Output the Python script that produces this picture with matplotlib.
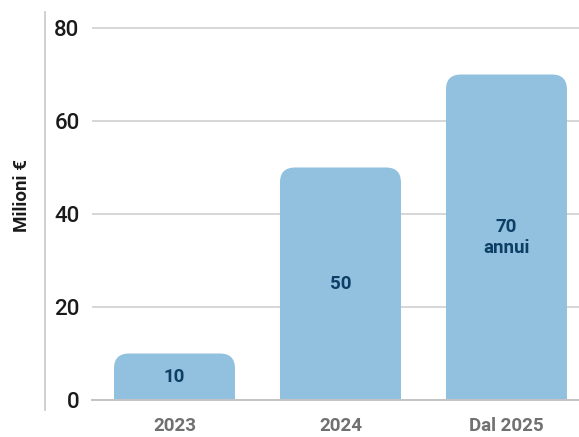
import matplotlib
matplotlib.use("Agg")
from matplotlib import pyplot as plt
from matplotlib.patches import FancyBboxPatch
from matplotlib.lines import Line2D

plt.rcParams['font.family'] = ['Roboto', 'DejaVu Sans']

categories = ['2023', '2024', 'Dal 2025']
values = [10, 50, 70]
bar_labels = ['10', '50', '70\nannui']
yticks = [0, 20, 40, 60, 80]

BARCOLOR = '#91c1de'
LABELCOLOR = '#0d3f66'
GRIDCOLOR = '#cfcfcf'

W, H = 579, 437
fig = plt.figure(figsize=(W / 100, H / 100), dpi=100)

# axes box in pixels: left 92, right 579, baseline at y=400, 80 at y=28
px_per_unit_y = (400 - 28) / 80
ytop = 82
top_px = 400 - ytop * px_per_unit_y
ax = fig.add_axes([92 / W, 1 - 400 / H, 1 - 92 / W, (400 - top_px) / H])

xmin, xmax = -0.497, 2.437
ax.set_xlim(xmin, xmax)
ax.set_ylim(0, ytop)
px_per_unit_x = (W - 92) / (xmax - xmin)

bar_width = 121 / px_per_unit_x
bars = ax.bar(range(len(values)), values, width=bar_width, color=BARCOLOR, zorder=2)

# swap the plain rectangles for ones with rounded top corners
radius_px = 15
aspect = px_per_unit_x / px_per_unit_y
for b in bars:
    x0, w, h = b.get_x(), b.get_width(), b.get_height()
    b.set_visible(False)
    r = radius_px / px_per_unit_x
    extra = 2 * radius_px / px_per_unit_y
    patch = FancyBboxPatch((x0, -extra), w, h + extra,
                           boxstyle=f"round,pad=0,rounding_size={r}",
                           mutation_aspect=aspect, facecolor=BARCOLOR,
                           edgecolor='none', zorder=2)
    ax.add_patch(patch)

for i, (v, lab) in enumerate(zip(values, bar_labels)):
    ax.text(i, v / 2, lab, ha='center', va='center', color=LABELCOLOR,
            fontsize=13.5, fontweight='bold', linespacing=1.25, zorder=3)

ax.set_yticks(yticks)
ax.set_yticklabels([str(t) for t in yticks], fontsize=16, fontweight='medium',
                   color='#1a1a1a')
ax.set_xticks(range(len(categories)))
ax.set_xticklabels(categories, fontsize=13.5, fontweight='bold', color='#707070')
ax.tick_params(axis='y', length=0, pad=9)
ax.tick_params(axis='x', length=0, pad=12)

ax.yaxis.grid(True, color=GRIDCOLOR, linewidth=1.2, zorder=0)
ax.set_axisbelow(True)
for s in ['top', 'right', 'left']:
    ax.spines[s].set_visible(False)
ax.spines['bottom'].set_color('#c4c4c4')
ax.spines['bottom'].set_linewidth(1.4)
ax.spines['bottom'].set_zorder(4)

# thin vertical rule left of the tick labels
fig.add_artist(Line2D([45 / W, 45 / W], [1 - 410 / H, 1 - 12 / H],
                      color='#c8c8c8', linewidth=1.2))

fig.text(22 / W, 1 - 195 / H, 'Milioni €', rotation=90, ha='center', va='center',
         fontsize=13.5, fontweight='bold', color='#1a1a1a')

fig.savefig('out.png', dpi=100)
